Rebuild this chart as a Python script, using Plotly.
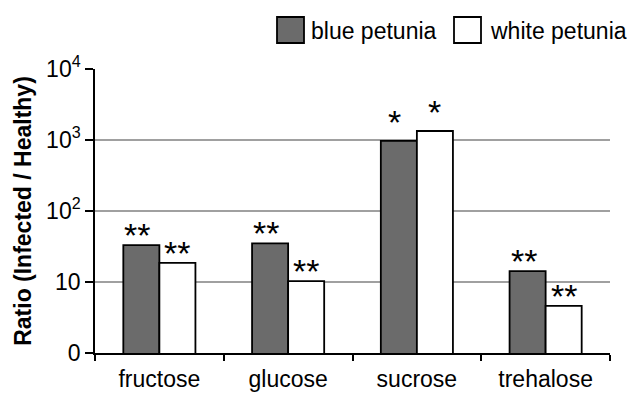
import math
import plotly.graph_objects as go

categories = ["fructose", "glucose", "sucrose", "trehalose"]
blue_values = [33, 35, 970, 14.2]
white_values = [18.6, 10.3, 1340, 4.6]
blue_marks = ["**", "**", "*", "**"]
white_marks = ["**", "**", "*", "**"]
tick_vals = [1, 10, 100, 1000, 10000]
tick_text = ["0", "10", "10<sup>2</sup>", "10<sup>3</sup>", "10<sup>4</sup>"]
series_names = ["blue petunia", "white petunia"]

FONT = "Liberation Sans, Arial, sans-serif"
BLUE = "#6b6b6b"
L, R, T, B = 95, 610, 69, 353

fig = go.Figure()
fig.add_trace(go.Bar(x=categories, y=blue_values, name=series_names[0],
                     marker=dict(color=BLUE, line=dict(color="black", width=1.8)),
                     showlegend=False))
fig.add_trace(go.Bar(x=categories, y=white_values, name=series_names[1],
                     marker=dict(color="white", line=dict(color="black", width=1.8)),
                     showlegend=False))

for i, c in enumerate(categories):
    for vals, marks, shift in ((blue_values, blue_marks, -22), (white_values, white_marks, 18)):
        ys = -11 if len(marks[i]) == 2 else -2
        fig.add_annotation(x=c, y=math.log10(vals[i]),
                           text=marks[i], showarrow=False, xshift=shift,
                           yanchor="bottom", yshift=ys,
                           font=dict(family=FONT, size=34, color="black"))

# legend drawn manually
legend_items = [(series_names[0], BLUE, 277, 309), (series_names[1], "white", 454, 488)]
for name, col, sx, tx in legend_items:
    fig.add_shape(type="rect", xref="paper", yref="paper",
                  x0=(sx - L) / (R - L), x1=(sx + 27 - L) / (R - L),
                  y0=(B - 43) / (B - T), y1=(B - 17) / (B - T),
                  fillcolor=col, line=dict(color="black", width=1.8))
    fig.add_annotation(xref="paper", yref="paper", x=(tx - L) / (R - L), y=(B - 31) / (B - T),
                       xanchor="left", yanchor="middle", text=name, showarrow=False,
                       font=dict(family=FONT, size=23, color="black"))

fig.update_layout(
    width=627, height=393,
    margin=dict(l=L, r=627 - R, t=T, b=393 - B, autoexpand=False),
    paper_bgcolor="white", plot_bgcolor="white",
    barmode="group", bargap=0.44, bargroupgap=0,
    font=dict(family=FONT, size=23, color="black"),
)
fig.update_xaxes(showline=True, linecolor="black", linewidth=1.5, automargin=False,
                 ticks="outside", tickson="boundaries", ticklen=6, tickcolor="black",
                 tickwidth=1.5, tickfont=dict(size=23), ticklabelstandoff=5)
fig.update_yaxes(type="log", range=[0, 4], tickvals=tick_vals, ticktext=tick_text,
                 showline=True, linecolor="black", linewidth=1.5, automargin=False,
                 ticks="outside", ticklen=8, tickcolor="black", tickwidth=1.5,
                 showgrid=True, gridcolor="#a0a0a0", gridwidth=1.5,
                 tickfont=dict(size=23),
                 title=dict(text="<b>Ratio (Infected / Healthy)</b>", font=dict(size=23), standoff=8))

fig.write_html("out.html", config={"displayModeBar": False},
               post_script="document.body.style.margin='0';")
